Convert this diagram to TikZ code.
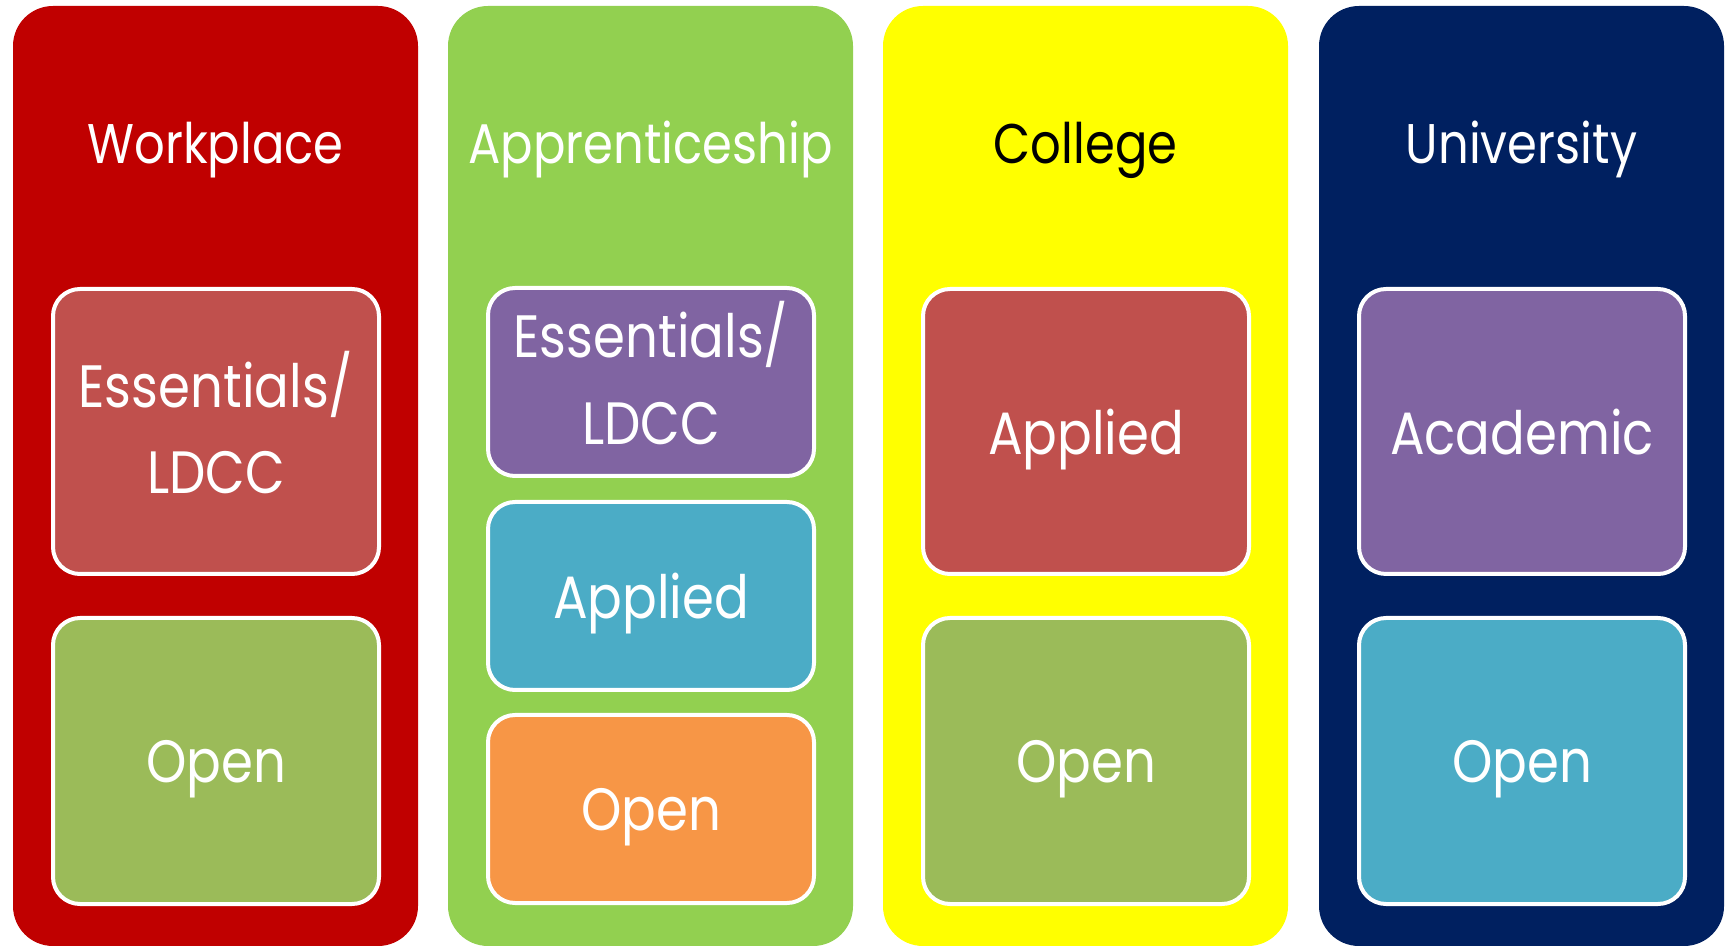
\documentclass[tikz,border=0pt]{standalone}
\usepackage{fontspec}
\setmainfont{Poppins}[FakeStretch=0.86]
\definecolor{wpred}{HTML}{C00000}
\definecolor{apgreen}{HTML}{92D050}
\definecolor{coyellow}{HTML}{FFFF00}
\definecolor{unblue}{HTML}{002060}
\definecolor{boxred}{HTML}{C0504D}
\definecolor{boxgreen}{HTML}{9BBB59}
\definecolor{boxpurple}{HTML}{8064A2}
\definecolor{boxaqua}{HTML}{4BACC6}
\definecolor{boxorange}{HTML}{F79646}
\begin{document}
\begin{tikzpicture}[x=0.1mm,y=-0.1mm]
        \useasboundingbox (0,0) rectangle (1731,947);

        % columns
        \begin{scope}[every node/.style={rounded corners=4mm,minimum width=40.5mm,minimum height=94mm,inner sep=0pt}]
          \node[fill=wpred]    (w) at (215.5,476)  {};
          \node[fill=apgreen]  (a) at (650.5,476)  {};
          \node[fill=coyellow] (c) at (1085.5,476) {};
          \node[fill=unblue]   (u) at (1521.5,476) {};
        \end{scope}

        % titles
        \begin{scope}[every node/.style={anchor=base,text=white,font=\fontsize{15.9}{19}\selectfont}]
          \node (wt) at (215.5,164)  {Workplace};
          \node (at) at (650.5,164)  {Apprenticeship};
          \node[text=black] (ct) at (1085.5,164) {College};
          \node (ut) at (1521.5,164) {University};
        \end{scope}

        % courses
        \begin{scope}[every node/.style={draw=white,line width=0.4mm,rounded corners=2.7mm,minimum width=32.6mm,
            inner sep=0pt,text=white,text depth=0pt,font=\fontsize{17}{24.5}\selectfont}]
          \node[fill=boxred,minimum height=28.5mm]    (w1) at (216,431.5) {};
          \node[fill=boxgreen,minimum height=28.6mm]  (w2) at (216,761)   {Open};
          \node[fill=boxpurple,minimum height=18.8mm] (a1) at (651,382)   {};
          \node[fill=boxaqua,minimum height=18.8mm]   (a2) at (651,596)   {Applied};
          \node[fill=boxorange,minimum height=18.8mm] (a3) at (651,809)   {Open};
          \node[fill=boxred,minimum height=28.5mm]    (c1) at (1086,431.5) {Applied};
          \node[fill=boxgreen,minimum height=28.6mm]  (c2) at (1086,761)   {Open};
          \node[fill=boxpurple,minimum height=28.5mm] (u1) at (1522,431.5) {Academic};
          \node[fill=boxaqua,minimum height=28.6mm]   (u2) at (1522,761)   {Open};
        \end{scope}

        % two-line labels
        \begin{scope}[every node/.style={text=white,align=center,font=\fontsize{17}{24.5}\selectfont}]
          \node (w1t) at ([yshift=0.9mm]w1) {Essentials/\\LDCC};
          \node (a1t) at ([yshift=0.9mm]a1) {Essentials/\\LDCC};
        \end{scope}

      \end{tikzpicture}
\end{document}
